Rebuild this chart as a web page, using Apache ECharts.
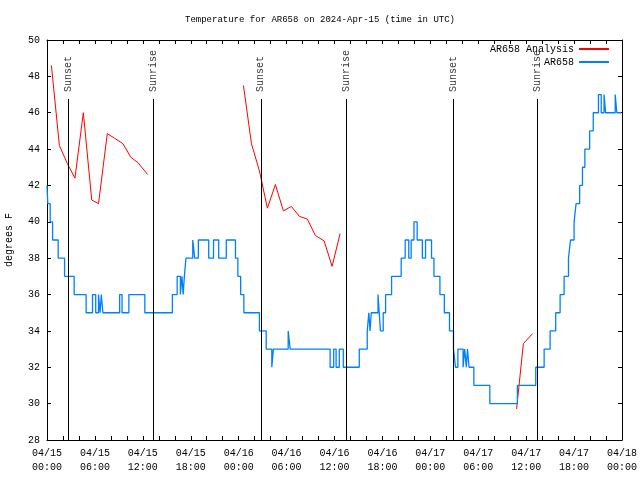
<!DOCTYPE html>
<html><head><meta charset="utf-8">
<script src="https://cdn.jsdelivr.net/npm/echarts@6/dist/echarts.min.js"></script>
<style>html,body{margin:0;padding:0;background:#fff}#c{width:640px;height:480px}</style>
</head><body><div id="c"></div>
<script>
// ---- data (x = hours since 2024-04-15 00:00 UTC, y = degrees F) ----
const xTickLabels = ['04/15\n00:00','04/15\n06:00','04/15\n12:00','04/15\n18:00','04/16\n00:00','04/16\n06:00','04/16\n12:00','04/16\n18:00','04/17\n00:00','04/17\n06:00','04/17\n12:00','04/17\n18:00','04/18\n00:00'];

const analysisSeg1 = [[0.55,48.6],[1.55,44.2],[2.55,43.2],[3.5,42.4],[4.55,46.0],[5.6,41.2],[6.45,41.0],[7.55,44.85],[8.45,44.6],[9.5,44.3],[10.5,43.55],[11.4,43.25],[12.6,42.6]];
const analysisSeg2 = [[24.6,47.5],[25.6,44.3],[26.6,42.8],[27.6,40.75],[28.6,42.05],[29.6,40.6],[30.6,40.85],[31.6,40.3],[32.6,40.15],[33.6,39.25],[34.7,38.95],[35.7,37.55],[36.7,39.35]];
const analysisSeg3 = [[58.8,29.7],[59.65,33.3],[60.8,33.85]];

const obsPoints = [[0,42],[0.1,41],[0.4,40],[0.7,39],[1.4,38],[2.2,37],[3.4,36],[4.9,35],[5.7,36],[6.1,35],[6.45,36],[6.65,35],[6.8,36],[7.0,35],[9.1,36],[9.4,35],[10.25,36],[12.25,35],[15.7,36],[16.3,37],[16.7,36],[16.9,37],[17.05,36],[17.2,37],[17.4,38],[18.25,39],[18.5,38],[18.95,39],[20.25,38],[20.85,39],[21.5,38],[22.45,39],[23.6,38],[23.9,37],[24.25,36],[24.65,35],[26.6,34],[27.45,33],[28.15,32],[28.35,33],[30.2,34],[30.45,33],[35.45,32],[35.9,33],[36.2,32],[36.6,33],[37.1,32],[39.1,33],[40.1,34],[40.3,35],[40.45,34],[40.6,35],[41.45,36],[41.6,35],[41.75,34],[42.1,35],[42.4,36],[43.15,37],[44.35,38],[44.85,39],[45.3,38],[45.6,39],[45.95,40],[46.35,39],[47.0,38],[47.4,39],[48.15,38],[48.45,37],[49.2,36],[49.75,35],[50.4,34],[50.9,33],[51.15,32],[51.45,33],[52.1,32],[52.3,33],[52.5,32],[52.65,33],[52.85,32],[53.45,31],[55.45,30],[58.9,31],[61.2,32],[62.25,33],[63.0,34],[63.7,35],[64.25,36],[64.75,37],[65.3,38],[65.55,39],[66.0,40],[66.25,41],[66.7,42],[67.05,43],[67.35,44],[67.95,45],[68.4,46],[69.05,47],[69.4,46],[69.75,47],[69.95,46],[71.15,47],[71.35,46],[71.9,46]];

const sunsetHours = [2.67, 26.77, 50.86];
const sunriseHours = [13.34, 37.43, 61.4];
const sunLineTop = 46.76;
const sunLabelBase = 47.14;

// ---- chart ----
const FONT = '"Liberation Mono","DejaVu Sans Mono",monospace';
const analysisData = analysisSeg1.concat([[13, '-']], analysisSeg2, [[37, '-']], analysisSeg3);

const sunEvents = [];
sunsetHours.forEach(h => sunEvents.push([h, 'Sunset']));
sunriseHours.forEach(h => sunEvents.push([h, 'Sunrise']));

const axisCommon = {
  type: 'value', min: 0, max: 72, interval: 6,
  axisLine: {show: true, onZero: false, lineStyle: {color: '#000', width: 1}},
  axisTick: {show: true, inside: true, length: 4, lineStyle: {color: '#000'}},
  minorTick: {show: true, splitNumber: 3, length: 4, lineStyle: {color: '#000'}},
  splitLine: {show: false}
};
const yCommon = {
  type: 'value', min: 28, max: 50, interval: 2,
  axisLine: {show: true, onZero: false, lineStyle: {color: '#000', width: 1}},
  axisTick: {show: true, inside: true, length: 4, lineStyle: {color: '#000'}},
  splitLine: {show: false}
};

const chart = echarts.init(document.getElementById('c'), null, {renderer: 'canvas'});
chart.setOption({
  animation: false,
  backgroundColor: '#fff',
  title: {
    text: 'Temperature for AR658 on 2024-Apr-15 (time in UTC)',
    left: 'center', top: 15, padding: 0,
    textStyle: {fontFamily: FONT, fontSize: 9, fontWeight: 'normal', color: '#000'}
  },
  legend: {
    orient: 'vertical', right: 30, top: 44, padding: 0, align: 'right',
    itemWidth: 30, itemHeight: 12, itemGap: 3,
    itemStyle: {opacity: 0},
    textStyle: {fontFamily: FONT, fontSize: 10, color: '#000'},
    data: ['AR658 Analysis', 'AR658']
  },
  grid: {left: 47, right: 18, top: 40, bottom: 40, containLabel: false, outerBoundsMode: 'none'},
  xAxis: [
    Object.assign({}, axisCommon, {
      position: 'bottom',
      axisLabel: {
        margin: 6, fontFamily: FONT, fontSize: 10, color: '#000', lineHeight: 14,
        formatter: v => xTickLabels[Math.round(v / 6)]
      }
    }),
    Object.assign({}, axisCommon, {position: 'top', axisLabel: {show: false}})
  ],
  yAxis: [
    Object.assign({}, yCommon, {
      position: 'left',
      name: 'degrees F', nameLocation: 'middle', nameGap: 33,
      nameTextStyle: {fontFamily: FONT, fontSize: 10, color: '#000'},
      axisLabel: {margin: 7, fontFamily: FONT, fontSize: 10, color: '#000'}
    }),
    Object.assign({}, yCommon, {position: 'right', axisLabel: {show: false}})
  ],
  series: [
    {
      name: 'AR658 Analysis', type: 'line', data: analysisData,
      symbol: 'none', connectNulls: false,
      lineStyle: {color: '#ff0000', width: 1}, itemStyle: {color: '#ff0000'}, z: 3
    },
    {
      name: 'AR658', type: 'line', data: obsPoints, step: 'end',
      symbol: 'none',
      lineStyle: {color: '#0080ff', width: 1.3}, itemStyle: {color: '#0080ff'}, z: 4
    },
    {
      name: 'sun', type: 'scatter', symbolSize: 0, silent: true, z: 5,
      data: sunEvents.map(e => ({value: [e[0], sunLabelBase], name: e[1]})),
      label: {
        show: true, position: 'inside', rotate: 90, align: 'left', verticalAlign: 'middle',
        formatter: p => p.name, fontFamily: FONT, fontSize: 10, color: '#000'
      },
      markLine: {
        silent: true, symbol: 'none', animation: false,
        label: {show: false},
        lineStyle: {color: '#000', width: 1, type: 'solid'},
        data: sunEvents.map(e => [{coord: [e[0], 28]}, {coord: [e[0], sunLineTop]}])
      }
    }
  ]
});
</script>
</body></html>
